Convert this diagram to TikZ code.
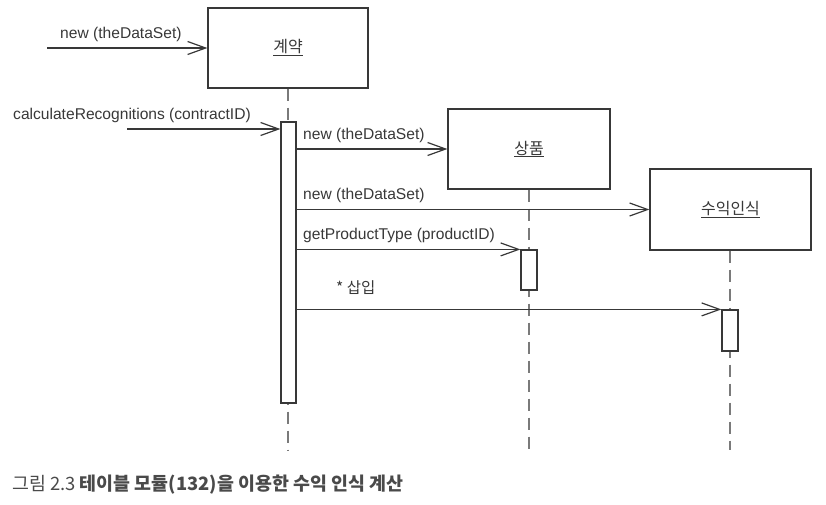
\documentclass[tikz,border=0pt]{standalone}
\usepackage{fontspec}
\setmainfont{Liberation Sans}
\newfontfamily\kr{Noto Sans CJK KR}
\usetikzlibrary{arrows.meta}
\definecolor{ink}{HTML}{383838}
\definecolor{lifegray}{HTML}{7A7A7A}
\definecolor{captxt}{HTML}{4A4A4A}
\tikzset{
  objbox/.style={draw=ink, line width=1.2pt, fill=white, minimum width=161pt, minimum height=80pt, inner sep=0pt,
    font=\kr\fontsize{16}{19}\selectfont, text=ink},
  actbar/.style={draw=ink, line width=1.2pt, fill=white, minimum width=15pt, inner sep=0pt},
  lifeline/.style={draw=lifegray, line width=1.2pt, dash pattern=on 12pt off 7pt},
  msg/.style={draw=ink, line width=1.2pt, -{Straight Barb[length=18pt,width=13pt,line width=1.2pt]}},
  lbl/.style={anchor=base west, inner sep=0pt, text=ink, font=\fontsize{15.6}{18}\selectfont},
  klbl/.style={anchor=base west, inner sep=0pt, text=ink, font=\kr\fontsize{15.5}{18}\selectfont},
}
\begin{document}
\begin{tikzpicture}[x=1pt,y=-1pt]
\useasboundingbox (0,0) rectangle (826,504);
% lifeline ends
\coordinate (Aend) at (288.5,450);
\coordinate (Bend) at (529,450);
\coordinate (Cend) at (730,450);
% object boxes
\node[objbox, minimum width=160pt] (A) at (288,48) {\underline{계약}};
\node[objbox, minimum width=162pt] (B) at (529,149) {\underline{상품}};
\node[objbox, minimum width=161pt, minimum height=81pt] (C) at (730.5,209.5) {\underline{수익인식}};
\draw[lifeline] (A.south) -- (A.south |- Aend);
\draw[lifeline] (B.south) -- (B.south |- Bend);
\draw[lifeline] (C.south -| Cend) -- (Cend);
% activation bars
\node[actbar, minimum height=281pt] (actA) at (288.5,262.5) {};
\node[actbar, minimum width=16pt, minimum height=40pt] (actB) at (529,270) {};
\node[actbar, minimum width=16pt, minimum height=41pt] (actC) at (730,330.5) {};
% incoming messages
\coordinate (s0) at (47,48);
\coordinate (s1) at (127,129);
\draw[msg] (s0) -- (A.west);
\node[lbl] (l0) at (60,38) {new (theDataSet)};
\draw[msg] (s1) -- (s1 -| actA.west);
\node[lbl] (l1) at (13,119) {calculateRecognitions (contractID)};
% outgoing messages
\draw[msg] (actA.east |- B.west) -- (B.west);
\node[lbl] (l2) at (303,139) {new (theDataSet)};
\draw[msg] (actA.east |- C.west) -- (C.west);
\node[lbl] (l3) at (303,199) {new (theDataSet)};
\draw[msg] (actA.east |- actB.north west) -- (actB.north west);
\node[lbl] (l4) at (303,239) {getProductType (productID)};
\draw[msg] (actA.east |- actC.north west) -- (actC.north west);
\node[klbl] (l5) at (336,293) {* 삽입};
% caption
\node[anchor=base west, inner sep=0pt, text=captxt, font=\kr\fontsize{18.4}{21}\selectfont] (cap) at (12,490)
  {그림 2.3 \textbf{테이블 모듈(132)을 이용한 수익 인식 계산}};
\end{tikzpicture}
\end{document}
